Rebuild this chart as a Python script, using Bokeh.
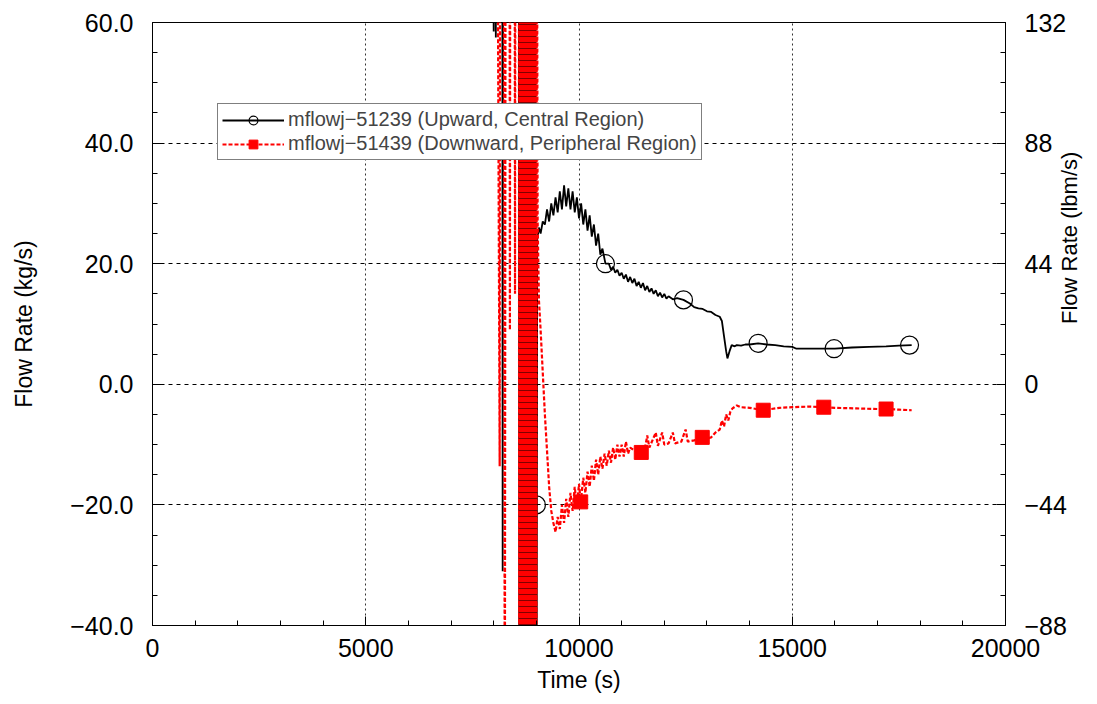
import math
from bokeh.plotting import figure
from bokeh.models import (Range1d, LinearAxis, FixedTicker, CustomJSTickFormatter,
                          Legend, LegendItem)
from bokeh.embed import file_html
from bokeh.resources import INLINE

# ---------------- data ----------------
up_t = [7950, 8000, 8010, 8050, 8060, 8200, 8210, 8220, 8590,
        8600, 8620, 8640, 8660, 8680, 8700, 8720, 8740, 8760, 8780, 8800,
        8820, 8840, 8860, 8880, 8900, 8920, 8940, 8960, 8980, 9000,
        9020, 9060, 9100, 9150, 9200, 9250, 9300, 9350, 9400, 9450, 9500,
        9550, 9600, 9650, 9700, 9750, 9800, 9850, 9900, 9950, 10000,
        10050, 10100, 10150, 10200, 10250, 10300, 10350, 10400, 10450, 10500,
        10550, 10620, 10700, 10750, 10800, 10850, 10900, 10950, 11000, 11050,
        11100, 11150, 11200, 11250, 11300, 11350, 11400, 11450, 11500, 11550,
        11600, 11650, 11700, 11750, 11800, 11850, 11900, 11950, 12000, 12050,
        12100, 12200, 12300, 12450, 12600, 12700, 12800, 12900, 13000, 13100,
        13200, 13300, 13350, 13400, 13450, 13480, 13530, 13580, 13650, 13700,
        13800, 13900, 14000, 14200, 14400, 14600, 14800, 15000, 15100, 15300,
        15600, 16000, 16400, 16800, 17200, 17500, 17800]
up_v = [100, 58.5, 100, 57.5, 100, 100, -31, 100, 100,
        -100, 100, -100, 100, -100, 100, -100, 100, -100, 100, -100,
        100, -100, 100, -100, 100, -100, 100, -100, 100, -100,
        24, 26, 25, 27, 26.5, 29, 27, 30, 28, 31, 28.5,
        32, 29, 33, 29.5, 32.5, 29, 32, 28.5, 31, 27.5,
        30, 26.5, 29, 25.5, 28, 24.5, 26.5, 23, 25, 21.5,
        22.5, 20, 20, 19, 19.5, 18.5, 19, 18, 18.5, 17.5,
        18.2, 17, 17.8, 16.8, 17.5, 16.3, 17, 16, 16.8, 15.6,
        16.3, 15.3, 15.9, 15, 15.6, 14.6, 15.2, 14.4, 15, 14.2,
        14.6, 14.1, 14.3, 14, 13.4, 12.8, 12.6, 12.5, 12.1, 12,
        11.5, 11.2, 10.5, 8, 5.5, 4.3, 5.5, 6.5, 6.3, 6.5,
        6.4, 6.6, 6.6, 6.8, 6.6, 6.5, 6.3, 6.2, 5.9, 5.9,
        5.9, 5.9, 6.1, 6.2, 6.3, 6.4, 6.5]
up_mark_t = [9000, 10620, 12450, 14200, 15980, 17750]
up_mark_v = [-20, 20, 14, 6.8, 5.9, 6.5]

down_t = [8080, 8140, 8150, 8240, 8260, 8280, 8370, 8380, 8390, 8490, 8500, 8510, 8590,
          8600, 8610, 8620, 8630, 8640, 8650, 8660, 8670, 8680, 8690, 8700,
          8710, 8720, 8730, 8740, 8750, 8760, 8770, 8780, 8790, 8800,
          8810, 8820, 8830, 8840, 8850, 8860, 8870, 8880, 8890, 8900,
          8910, 8920, 8930, 8940, 8950, 8960, 8970, 8980, 8990, 9000, 9010,
          9030, 9060, 9100, 9150, 9200, 9250, 9300, 9350, 9400, 9450, 9500,
          9550, 9600, 9650, 9700, 9750, 9800, 9850, 9900, 9950, 10000,
          10040, 10100, 10150, 10200, 10250, 10300, 10350, 10400, 10450, 10500,
          10550, 10600, 10650, 10700, 10750, 10800, 10850, 10900, 10950, 11000,
          11050, 11100, 11150, 11200, 11300, 11460, 11550, 11600, 11650, 11800,
          11850, 11950, 12000, 12100, 12200, 12250, 12400, 12500, 12550, 12700,
          12890, 13000, 13100, 13200, 13300, 13350, 13400, 13450, 13500, 13550,
          13600, 13700, 13800, 14000, 14320, 14500, 14700, 15000, 15400, 15740,
          16000, 16500, 17000, 17200, 17500, 17800]
down_v = [100, -13.6, 100, 100, -80, 100, 100, 9, 100, 100, 15, 100, 100,
          -100, 100, -100, 100, -100, 100, -100, 100, -100, 100, -100,
          100, -100, 100, -100, 100, -100, 100, -100, 100, -100,
          100, -100, 100, -100, 100, -100, 100, -100, 100, -100,
          100, -100, 100, -100, 100, -100, 100, -100, 100, -100, 100,
          27, 14, 9, 2, -5, -11, -17, -21, -23, -24.5, -22,
          -24, -20, -23, -19, -22, -18, -21, -17, -20.5, -16.5,
          -19.5, -15.5, -18, -14.5, -17, -13.5, -16, -12.5, -15, -12,
          -14, -11.5, -13.5, -11, -13, -10.5, -12.5, -10, -12, -10,
          -12, -9.5, -11.5, -10.5, -11, -11.3, -10.5, -8.5, -10.5, -8,
          -10.2, -8, -10, -9.8, -8, -9.8, -9.5, -7.5, -9.5, -9.3,
          -8.8, -9, -8.8, -8, -7.5, -6, -7, -5, -6, -4.5,
          -4, -3.5, -3.8, -3.9, -4.3, -4.1, -3.9, -3.8, -3.7, -3.8,
          -3.9, -4.0, -4.1, -4.1, -4.2, -4.3]
down_mark_t = [10040, 11460, 12890, 14320, 15740, 17200]
down_mark_v = [-19.5, -11.3, -8.8, -4.3, -3.8, -4.1]

x_ticks = [0, 5000, 10000, 15000, 20000]
y_ticks = [-40, -20, 0, 20, 40, 60]
y2_ticks = [-88, -44, 0, 44, 88, 132]

FONT = "Liberation Sans"

p = figure(width=1097, height=704, output_backend="svg", toolbar_location=None,
           x_range=Range1d(0, 20000), y_range=Range1d(-40, 60),
           min_border_left=152, min_border_right=90, min_border_top=22, min_border_bottom=79)
p.background_fill_color = "white"
p.border_fill_color = "white"
p.outline_line_color = "black"
p.outline_line_width = 1

p.extra_y_ranges = {"lbm": Range1d(-88, 132)}

# axes
p.xaxis.ticker = FixedTicker(ticks=x_ticks, minor_ticks=list(range(0, 20001, 1000)))
p.yaxis.ticker = FixedTicker(ticks=y_ticks, minor_ticks=list(range(-40, 61, 5)))
p.xaxis.formatter = CustomJSTickFormatter(code="return tick.toFixed(0);")
p.yaxis.formatter = CustomJSTickFormatter(code="return tick.toFixed(1).replace('-', '\u2212');")
p.xaxis.axis_label = "Time (s)"
p.yaxis.axis_label = "Flow Rate (kg/s)"

ax2 = LinearAxis(y_range_name="lbm", axis_label="Flow Rate (lbm/s)",
                 ticker=FixedTicker(ticks=y2_ticks, minor_ticks=list(range(-88, 133, 11))),
                 formatter=CustomJSTickFormatter(code="return tick.toFixed(0).replace('-', '\u2212');"))
p.add_layout(ax2, "right")

for ax in [p.xaxis[0], p.yaxis[0], ax2]:
    ax.major_tick_in = 9
    ax.major_tick_out = 0
    ax.minor_tick_in = 5
    ax.minor_tick_out = 0
    ax.axis_line_color = "black"
    ax.major_tick_line_color = "black"
    ax.minor_tick_line_color = "black"
    ax.major_label_text_font = FONT
    ax.major_label_text_font_size = "25px"
    ax.major_label_text_color = "black"
    ax.axis_label_text_font = FONT
    ax.axis_label_text_font_size = "23px"
    ax.axis_label_text_font_style = "normal"
    ax.axis_label_text_color = "black"

ax2.axis_label_text_font_size = "22px"
p.xaxis.major_label_standoff = 13
p.xaxis.axis_label_standoff = 7
p.yaxis.major_label_standoff = 19
p.yaxis.axis_label_standoff = 30
ax2.major_label_standoff = 19
ax2.axis_label_standoff = 0
if hasattr(ax2, "axis_label_orientation"):
    ax2.axis_label_orientation = math.pi / 2

p.xgrid.grid_line_color = "#333333"
p.xgrid.grid_line_dash = "2 3"
p.xgrid.grid_line_width = 1
p.ygrid.grid_line_color = "black"
p.ygrid.grid_line_dash = "4 4"
p.ygrid.grid_line_width = 1

# series
l_up = p.line(up_t, up_v, line_color="black", line_width=1.8)
m_up = p.scatter(up_mark_t, up_mark_v, marker="circle", size=18, line_color="black",
                 fill_alpha=0, line_width=1.2)
l_dn = p.line(down_t, down_v, line_color="red", line_width=2.2, line_dash="4 2")
m_dn = p.scatter(down_mark_t, down_mark_v, marker="square", size=14, line_color="red",
                 fill_color="red")

legend = Legend(items=[
    LegendItem(label="mflowj\u221251239 (Upward, Central Region)", renderers=[l_up, m_up]),
    LegendItem(label="mflowj\u221251439 (Downward, Peripheral Region)", renderers=[l_dn, m_dn]),
], location=(65, 465))
legend.label_text_font = FONT
legend.label_text_font_size = "20px"
legend.glyph_width = 62
legend.glyph_height = 22
legend.label_standoff = 4
legend.spacing = 1
legend.padding = 4
legend.margin = 0
legend.border_line_color = "black"
legend.border_line_width = 1
legend.background_fill_alpha = 1
p.add_layout(legend, "center")

open("out.html", "w").write(file_html(p, INLINE))
